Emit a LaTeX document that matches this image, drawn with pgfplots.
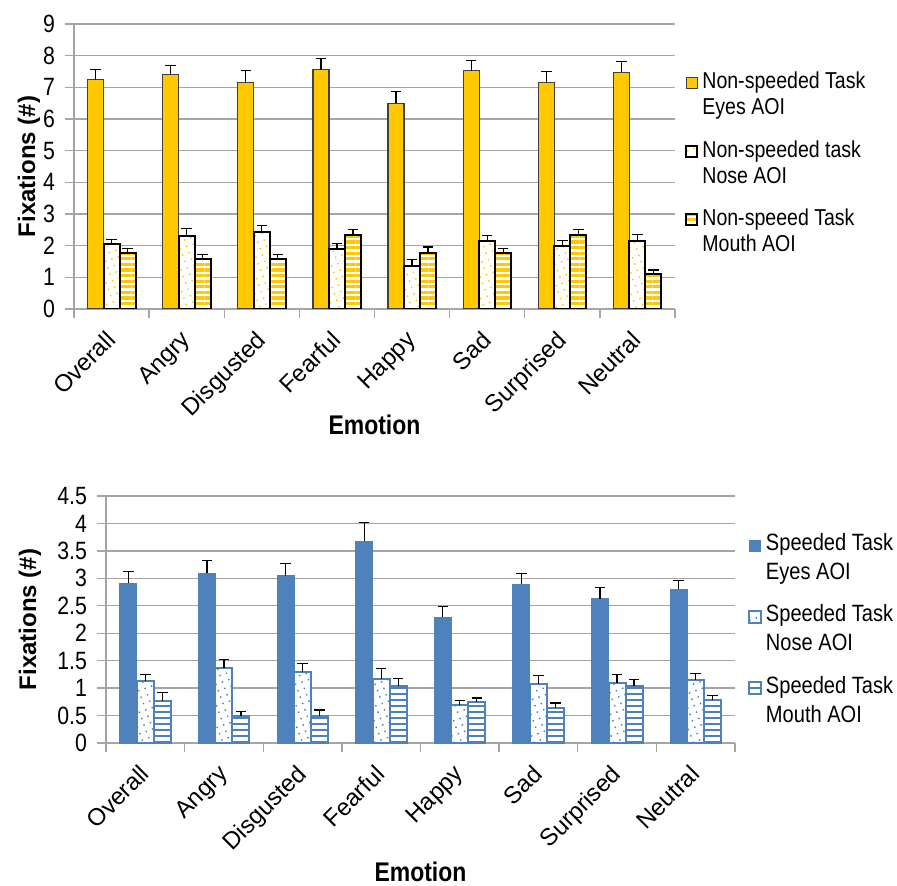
\documentclass[border=0pt]{standalone}
\usepackage{pgfplots}
\pgfplotsset{compat=1.18}
\usepackage{pgfplotstable}
\usepackage{fontspec}
\setmainfont{Liberation Sans}
\newfontfamily\narrowfont[FakeStretch=0.85]{Liberation Sans}
\usetikzlibrary{patterns.meta}
\definecolor{gold}{RGB}{255,200,0}
\definecolor{sblue}{RGB}{79,129,189}
\definecolor{gridgray}{RGB}{165,165,165}

\pgfplotstableread{
x e ee n ne m me
0 7.24 0.33 2.05 0.15 1.78 0.14
1 7.40 0.29 2.31 0.22 1.58 0.14
2 7.15 0.37 2.42 0.22 1.58 0.14
3 7.56 0.34 1.91 0.16 2.34 0.18
4 6.50 0.38 1.37 0.19 1.78 0.18
5 7.52 0.33 2.16 0.17 1.78 0.14
6 7.15 0.34 1.98 0.19 2.34 0.16
7 7.48 0.33 2.16 0.20 1.10 0.13
}\toptable
\pgfplotstableread{
x e ee n ne m me
0 2.91 0.21 1.13 0.12 0.76 0.16
1 3.09 0.23 1.36 0.16 0.50 0.08
2 3.05 0.22 1.29 0.16 0.50 0.10
3 3.68 0.34 1.17 0.19 1.04 0.14
4 2.29 0.19 0.69 0.09 0.74 0.08
5 2.89 0.20 1.08 0.15 0.64 0.09
6 2.63 0.20 1.10 0.15 1.04 0.12
7 2.80 0.16 1.15 0.12 0.78 0.09
}\bottable

\pgfplotsset{
  chartbase/.style={
    scale only axis,
    ybar=0pt,
    ymin=0,
    xmin=-0.5, xmax=7.5,
    xtick={0,...,7},
    xticklabels={Overall,Angry,Disgusted,Fearful,Happy,Sad,Surprised,Neutral},
    minor xtick={-0.5,0.5,...,7.5},
    major x tick style={draw=none},
    minor x tick style={draw=gridgray, line width=0.7pt},
    y tick style={draw=gridgray, line width=0.7pt},
    tick align=outside,
    major tick length=4.5pt,
    minor tick length=4.5pt,
    axis x line*=bottom,
    axis y line*=left,
    axis line style={draw=gridgray, line width=0.7pt, -},
    ymajorgrids,
    grid style={draw=gridgray, line width=0.7pt},
    /pgf/number format/assume math mode=true,
    yticklabel style={xshift=-1.5pt, font=\narrowfont\fontsize{12.5}{14}\selectfont},
    xticklabel style={xshift=-3.5pt, yshift=-5.5pt, rotate=45, anchor=north east, inner sep=0pt, font=\fontsize{12}{14}\selectfont},
    xlabel={Emotion},
    ylabel={Fixations (\#)},
    legend cell align=left,
    error bars/y dir=plus,
    error bars/y explicit,
    error bars/error bar style={black, line width=0.6pt},
    error bars/error mark options={black, line width=0.6pt, mark size=2.6pt, rotate=90},
  }
}

\begin{document}
\begin{tikzpicture}
\useasboundingbox (0pt,0pt) rectangle (448.5pt,-443pt);

% ---------------- top chart ----------------
\begin{axis}[chartbase,
  at={(37pt,-154.5pt)}, anchor=south west,
  width=300.5pt, height=142.5pt,
  ymax=9, ytick={0,...,9},
  bar width=8pt,
  every axis y label/.style={at={(axis description cs:0,0.5)}, xshift=-22.5pt, rotate=90, anchor=center, font=\bfseries\fontsize{12}{14}\selectfont},
  every axis x label/.style={at={(axis description cs:0.5,0)}, yshift=-58pt, anchor=center, font=\narrowfont\bfseries\fontsize{13.5}{15}\selectfont},
  legend image code/.code={\draw[#1] (0pt,3.2pt) rectangle (5.5pt,8.7pt);},
  legend style={at={(1,0.848)}, anchor=north west, xshift=5pt, draw=none, fill=none,
    font=\narrowfont\fontsize{11.5}{13}\selectfont, row sep=7.5pt, column sep=0pt, inner sep=0pt,
    cells={align=left}},
]
\addplot[fill=gold, draw=black!75, line width=0.6pt]
  table[x=x, y=e, y error=ee]{\toptable};
\addlegendentry{Non-speeded Task\\Eyes AOI}
\addplot[preaction={fill=white}, pattern={Dots[radius=0.5pt, distance=3.4pt, angle=20]}, pattern color=gold, draw=black, line width=1pt]
  table[x=x, y=n, y error=ne]{\toptable};
\addlegendentry{Non-speeded task\\Nose AOI}
\addplot[preaction={fill=white}, pattern={Lines[distance=2.8pt, line width=1.6pt]}, pattern color=gold, draw=black, line width=1pt]
  table[x=x, y=m, y error=me]{\toptable};
\addlegendentry{Non-speeed Task\\Mouth AOI}
\end{axis}

% ---------------- bottom chart ----------------
\begin{axis}[chartbase,
  at={(53pt,-371.5pt)}, anchor=south west,
  width=314.5pt, height=123.5pt,
  ymax=4.5, ytick={0,0.5,...,4.5},
  bar width=8.5pt,
  every axis y label/.style={at={(axis description cs:0,0.5)}, xshift=-38pt, rotate=90, anchor=center, font=\bfseries\fontsize{12}{14}\selectfont},
  every axis x label/.style={at={(axis description cs:0.5,0)}, yshift=-64.5pt, anchor=center, font=\narrowfont\bfseries\fontsize{13.5}{15}\selectfont},
  legend image code/.code={\draw[#1] (0pt,3.3pt) rectangle (5.8pt,9.1pt);},
  legend style={at={(1,0.865)}, anchor=north west, xshift=6.5pt, draw=none, fill=none,
    font=\narrowfont\fontsize{11.8}{14.5}\selectfont, row sep=7pt, column sep=0pt, inner sep=0pt,
    cells={align=left}},
]
\addplot[fill=sblue, draw=sblue, line width=0.5pt]
  table[x=x, y=e, y error=ee]{\bottable};
\addlegendentry{Speeded Task\\Eyes AOI}
\addplot[preaction={fill=white}, pattern={Dots[radius=0.5pt, distance=3.4pt, angle=20]}, pattern color=sblue, draw=sblue, line width=1pt]
  table[x=x, y=n, y error=ne]{\bottable};
\addlegendentry{Speeded Task\\Nose AOI}
\addplot[preaction={fill=white}, pattern={Lines[distance=3pt, line width=1.4pt]}, pattern color=sblue, draw=sblue, line width=1pt]
  table[x=x, y=m, y error=me]{\bottable};
\addlegendentry{Speeded Task\\Mouth AOI}
\end{axis}
\end{tikzpicture}
\end{document}
